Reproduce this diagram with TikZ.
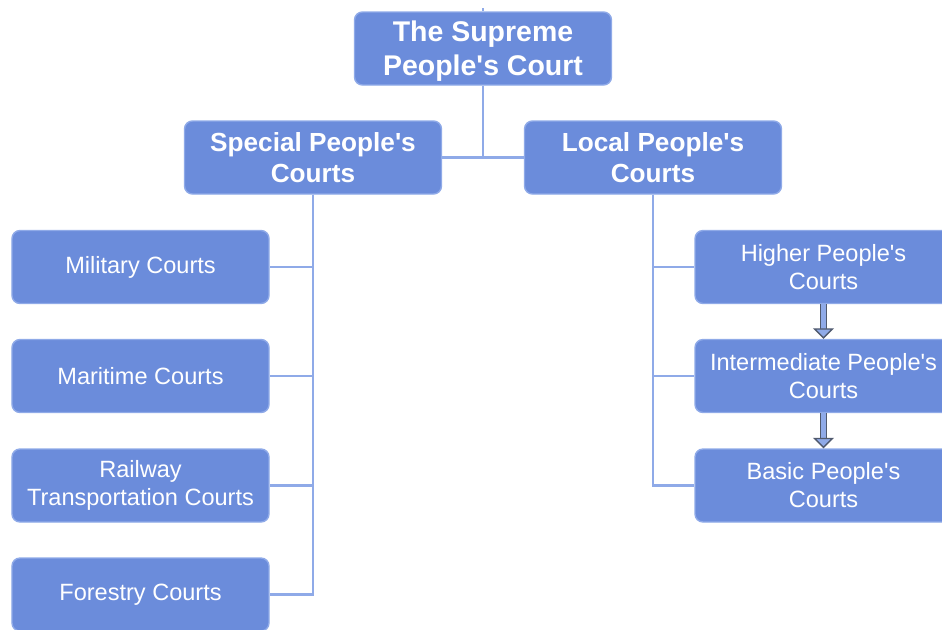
\documentclass[tikz,border=0pt]{standalone}
\usepackage{fontspec}
\setmainfont{Liberation Sans}
\usetikzlibrary{arrows.meta}
\definecolor{boxblue}{RGB}{107,140,219}
\definecolor{lineblue}{RGB}{143,170,232}
\definecolor{shaftgray}{RGB}{80,90,110}
\newcommand{\ap}{\textquotesingle}

\begin{document}
\begin{tikzpicture}[
  court/.style={draw=lineblue, fill=boxblue, rounded corners=0.08cm, text=white, align=center,
    minimum width=2.57cm, minimum height=0.73cm, inner sep=0pt, font=\fontsize{6.7pt}{8pt}\selectfont},
  head/.style={court, font=\bfseries\fontsize{7.45pt}{8.8pt}\selectfont},
  link/.style={draw=lineblue, line width=0.6pt},
  down/.style={draw=shaftgray, double=lineblue, double distance=1.4pt, line width=0.4pt,
    -{Triangle[open, length=3pt, width=6pt, fill=lineblue]}}]
  \useasboundingbox (0,0) rectangle (9.42,-6.29);
  % top levels
  \node[head, font=\bfseries\fontsize{8.1pt}{9.7pt}\selectfont, text depth=0pt] (spc) at (4.83,-0.485)
    {The Supreme\\People\ap s Court};
  \node[head] (special) at (3.13,-1.575) {Special People\ap s\\Courts};
  \node[head] (local) at (6.53,-1.575) {Local People\ap s\\Courts};
  % special courts
  \node[court] (military) at (1.405,-2.67) {Military Courts};
  \node[court] (maritime) at (1.405,-3.76) {Maritime Courts};
  \node[court] (railway) at (1.405,-4.855) {Railway\\Transportation Courts};
  \node[court] (forestry) at (1.405,-5.945) {Forestry Courts};
  % local courts
  \node[court] (higher) at (8.235,-2.67) {Higher People\ap s\\Courts};
  \node[court] (intermediate) at (8.235,-3.76) {Intermediate People\ap s\\Courts};
  \node[court] (basic) at (8.235,-4.855) {Basic People\ap s\\Courts};
  \coordinate (stub) at (4.83,-0.08);

  \path[link] (stub) edge (spc)
    (spc) edge (spc |- special)
    (special) edge (local);
  \foreach \c in {military,maritime,railway,forestry}
    \draw[link] (special.south) |- (\c.east);
  \foreach \c in {higher,intermediate,basic}
    \draw[link] (local.south) |- (\c.west);
  \draw[down] (higher) -- (intermediate);
  \draw[down] (intermediate) -- (basic);
\end{tikzpicture}
\end{document}
